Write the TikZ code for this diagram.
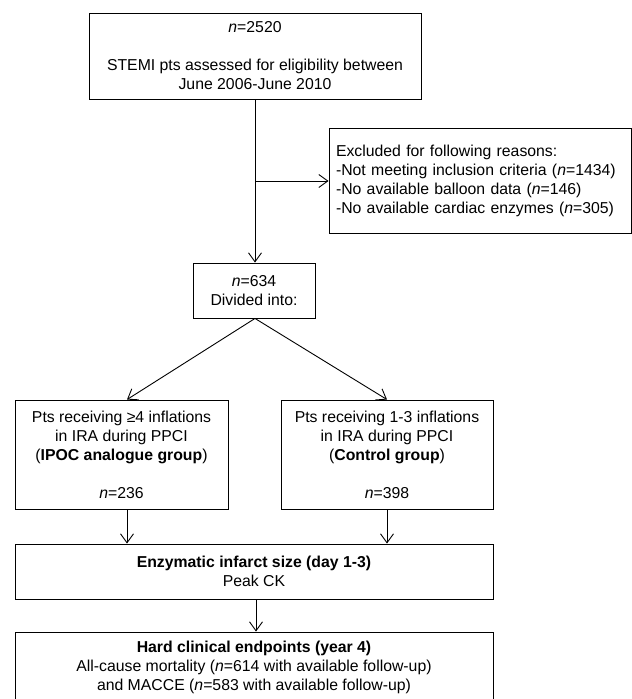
\documentclass[tikz,border=0pt]{standalone}
\usepackage{fontspec}
\setmainfont{Liberation Sans}
\usetikzlibrary{arrows.meta}
\begin{document}
\begin{tikzpicture}[x=1pt,y=-1pt,
  box/.style={draw=black, line width=0.9pt, inner sep=0pt, align=center,
    font=\fontsize{15.8}{19}\selectfont},
  arr/.style={draw=black, line width=0.9pt, -{Straight Barb[length=9pt,width=13pt,line width=0.9pt]}},
  ln/.style={draw=black, line width=0.9pt}]
\useasboundingbox (0,0) rectangle (632,699);
\node[box, minimum width=332pt, minimum height=86pt] (top) at (255,56)
  {\textit{n}=2520\\[19pt] STEMI pts assessed for eligibility between\\ June 2006-June 2010};
\node[box, text width=288pt, inner xsep=7pt, align=left, minimum height=105pt] (excl) at (480,180.5)
  {Excluded for following reasons:\\ -Not meeting inclusion criteria (\textit{n}=1434)\\ -No available balloon data (\textit{n}=146)\\ -No available cardiac enzymes (\textit{n}=305)};
\node[box, minimum width=122pt, minimum height=55pt] (div) at (254,290.5)
  {\textit{n}=634\\ Divided into:};
\node[box, minimum width=213pt, minimum height=109pt] (lft) at (121.5,454.5)
  {Pts receiving ≥4 inflations\\ in IRA during PPCI\\ (\textbf{IPOC analogue group})\\[19pt] \textit{n}=236};
\node[box, minimum width=212pt, minimum height=109pt] (rgt) at (387,454.5)
  {Pts receiving 1-3 inflations\\ in IRA during PPCI\\ (\textbf{Control group})\\[19pt] \textit{n}=398};
\node[box, minimum width=478pt, minimum height=55pt] (enz) at (254,571.5)
  {\textbf{Enzymatic infarct size (day 1-3)}\\ Peak CK};
\node[box, minimum width=478pt, minimum height=70pt] (fin) at (254,667)
  {\textbf{Hard clinical endpoints (year 4)}\\ All-cause mortality (\textit{n}=614 with available follow-up)\\ and MACCE (\textit{n}=583 with available follow-up)};
\coordinate (br) at (255,181);
\draw[arr] (top.south) -- (top.south |- div.north);
\draw[arr] (br) -- (br -| excl.west);
\draw[arr] ([xshift=1pt]div.south) -- ([xshift=5.5pt]lft.north);
\draw[arr] ([xshift=1pt]div.south) -- (rgt.north);
\draw[arr] ([xshift=5.5pt]lft.south) -- ([xshift=5.5pt]lft.south |- enz.north);
\draw[arr] (rgt.south) -- (rgt.south |- enz.north);
\draw[arr] ([xshift=2pt]enz.south) -- ([xshift=2pt]fin.north);
\end{tikzpicture}
\end{document}
